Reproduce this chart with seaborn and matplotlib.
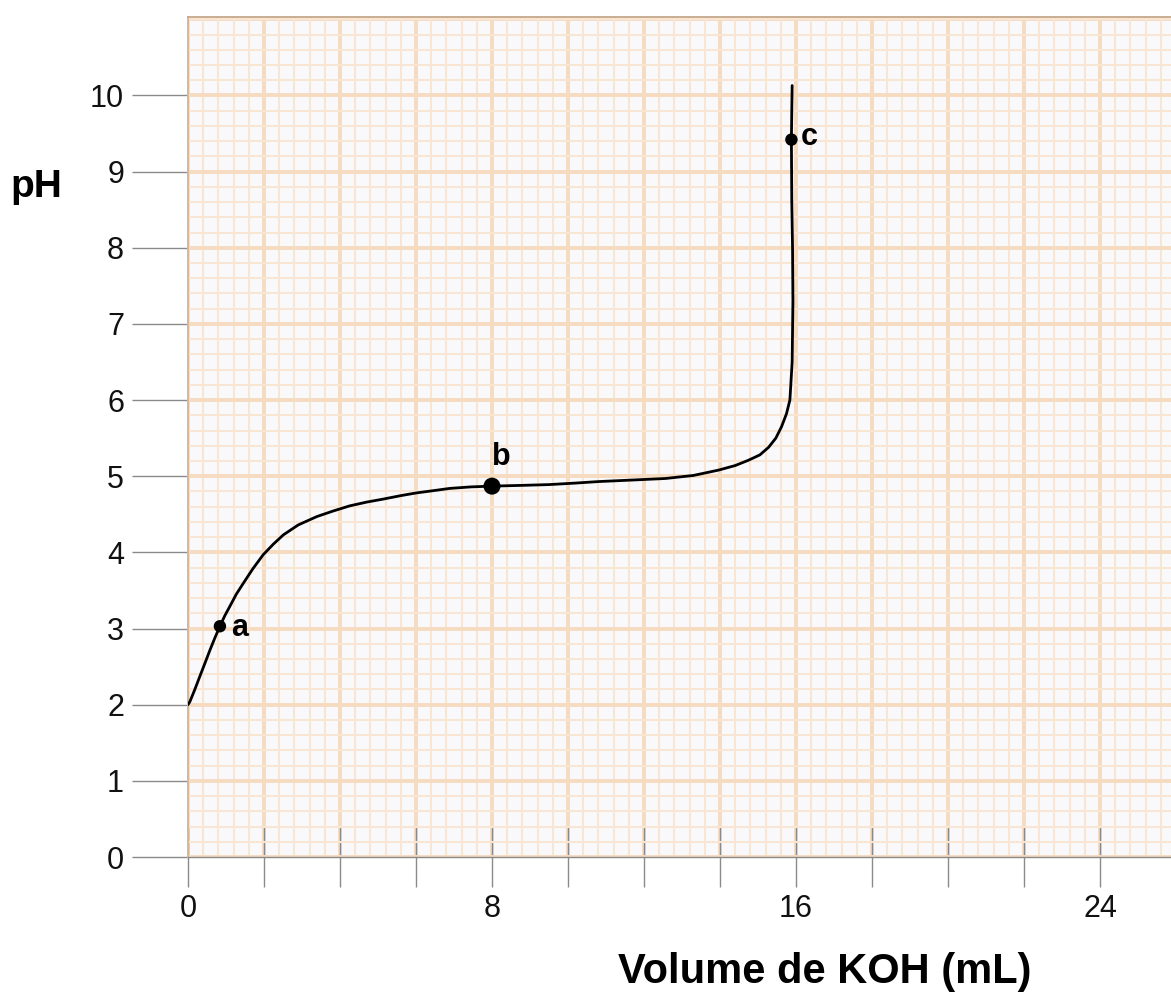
import numpy as np
import pandas as pd
import matplotlib
matplotlib.use("Agg")
import matplotlib.pyplot as plt
import seaborn as sns

# ---- data ----
volume_ml = [0.0, 0.05, 0.18, 0.31, 0.45, 0.58, 0.71, 0.84, 0.97, 1.10, 1.27, 1.45,
             1.7, 1.98, 2.25, 2.51, 2.9, 3.39, 3.8, 4.25, 4.7, 5.14, 5.6, 6.0,
             6.45, 6.89, 7.45, 8.0, 8.8, 9.5, 10.2, 10.81, 11.7, 12.56, 13.3,
             13.96, 14.4, 14.75, 15.05, 15.28, 15.47, 15.62, 15.75, 15.84, 15.9,
             15.92, 15.91, 15.89, 15.88, 15.89, 15.9]
ph_values = [2.0, 2.04, 2.2, 2.37, 2.55, 2.72, 2.88, 3.03, 3.17, 3.29, 3.45, 3.59,
             3.78, 3.97, 4.11, 4.23, 4.36, 4.47, 4.54, 4.61, 4.66, 4.70, 4.745, 4.78,
             4.81, 4.84, 4.86, 4.87, 4.88, 4.89, 4.91, 4.93, 4.95, 4.97, 5.01,
             5.08, 5.14, 5.21, 5.28, 5.38, 5.5, 5.65, 5.82, 6.0, 6.5,
             7.3, 8.0, 8.62, 9.42, 9.8, 10.13]

point_labels = ["a", "b", "c"]
point_volume = [0.84, 8.0, 15.88]
point_ph = [3.03, 4.87, 9.42]

x_tick_values = [0, 2, 4, 6, 8, 10, 12, 14, 16, 18, 20, 22, 24]
x_tick_labels = ["0", "", "", "", "8", "", "", "", "16", "", "", "", "24"]
y_tick_values = [0, 1, 2, 3, 4, 5, 6, 7, 8, 9, 10]
y_tick_labels = ["0", "1", "2", "3", "4", "5", "6", "7", "8", "9", "10"]

x_label = "Volume de KOH (mL)"
y_label = "pH"

# ---- styling ----
sns.set_style("white")
plt.rcParams["font.family"] = ["Liberation Sans", "DejaVu Sans"]
plt.rcParams["lines.solid_joinstyle"] = "round"

W, H = 1171, 996
fig = plt.figure(figsize=(W / 100, H / 100), dpi=100)
ax = fig.add_axes([188 / W, 1 - 857 / H, (1171 - 188) / W, (857 - 17) / H])
ax.set_facecolor("#f9f9fb")

curve = pd.DataFrame({"vol": volume_ml, "ph": ph_values})
sns.lineplot(data=curve, x="vol", y="ph", sort=False, estimator=None,
             color="black", linewidth=2.0, ax=ax, zorder=5)

pts = pd.DataFrame({"vol": point_volume, "ph": point_ph, "lab": point_labels})
marker_sizes = {"a": 80, "b": 150, "c": 80}
sns.scatterplot(data=pts, x="vol", y="ph", size="lab", sizes=marker_sizes,
                color="black", edgecolor="none", legend=False, ax=ax, zorder=6)

label_offsets = {"a": (8, -1, "left"), "b": (7, 21, "center"), "c": (7, 2, "left")}
for lab, xv, yv in zip(point_labels, point_volume, point_ph):
    dx, dy, ha = label_offsets[lab]
    ax.annotate(lab, (xv, yv), xytext=(dx, dy), textcoords="offset points",
                ha=ha, va="center", fontsize=22, fontweight="bold", color="black",
                zorder=7)

ax.set_xlim(0, 25.87)
ax.set_ylim(0, 11.03)

ax.set_xticks(x_tick_values)
ax.set_xticklabels(x_tick_labels)
ax.set_yticks(y_tick_values)
ax.set_yticklabels(y_tick_labels)
ax.set_xticks(np.arange(0, 26, 0.4), minor=True)
ax.set_yticks(np.arange(0, 11.01, 0.2), minor=True)

ax.grid(which="minor", color="#f8e5d3", linewidth=1.5, zorder=0)
ax.grid(which="major", color="#f5dbbf", linewidth=2.8, zorder=0)
ax.axhline(11.0, color="#f5dbbf", linewidth=2.8, zorder=0)
ax.set_axisbelow(True)

ax.tick_params(axis="x", which="major", bottom=True, direction="inout", length=43,
               width=1.0, color="#8a8a8a", labelsize=22, pad=5, labelcolor="#111111")
ax.tick_params(axis="y", which="major", left=True, direction="out", length=40,
               width=1.0, color="#8a8a8a", labelsize=22, pad=6, labelcolor="#111111")
ax.tick_params(which="minor", length=0)

ax.set_xlabel("")
ax.set_ylabel("")

ax.spines["right"].set_visible(False)
ax.spines["left"].set_color("#d9b793")
ax.spines["left"].set_linewidth(1.4)
ax.spines["top"].set_color("#c8ad92")
ax.spines["top"].set_linewidth(1.4)
ax.spines["bottom"].set_color("#8a8a8a")
ax.spines["bottom"].set_linewidth(1.0)
ax.spines["bottom"].set_zorder(8)

fig.text(10 / W, 1 - 187 / H, y_label, ha="left", va="center",
         fontsize=28, fontweight="bold", color="black")
fig.text(825 / W, 1 - 972 / H, x_label, ha="center", va="center",
         fontsize=30, fontweight="bold", color="black")

fig.savefig("out.png", dpi=100, facecolor="white")
